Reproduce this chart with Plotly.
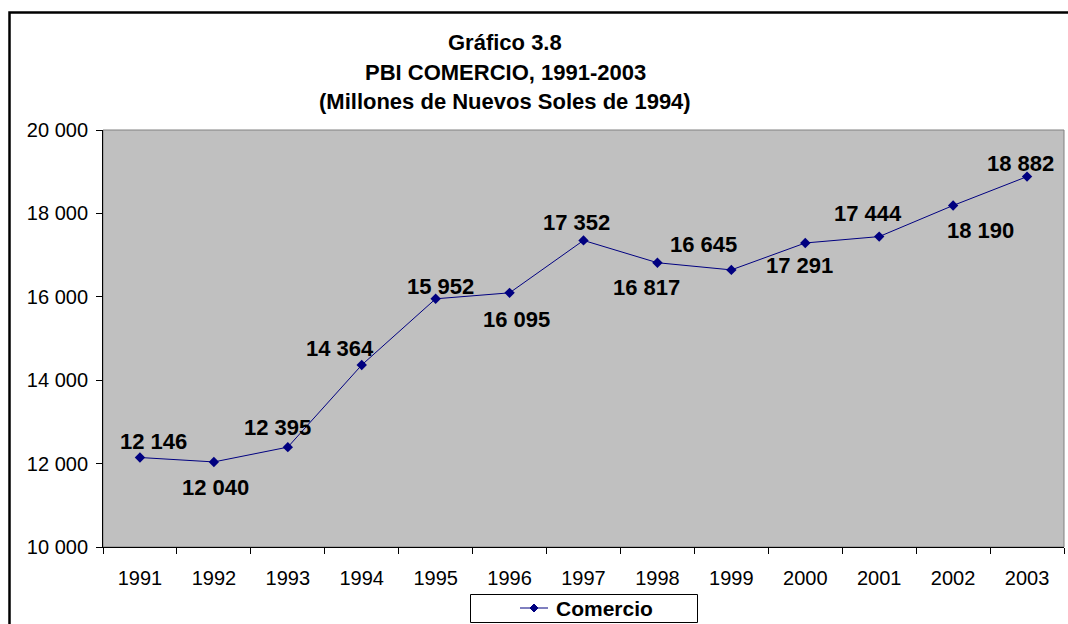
import plotly.graph_objects as go

years = ["1991", "1992", "1993", "1994", "1995", "1996", "1997",
         "1998", "1999", "2000", "2001", "2002", "2003"]
comercio = [12146, 12040, 12395, 14364, 15952, 16095, 17352,
            16817, 16645, 17291, 17444, 18190, 18882]
labels = ["12 146", "12 040", "12 395", "14 364", "15 952", "16 095", "17 352",
          "16 817", "16 645", "17 291", "17 444", "18 190", "18 882"]
y_ticks = [10000, 12000, 14000, 16000, 18000, 20000]
y_tick_text = ["10 000", "12 000", "14 000", "16 000", "18 000", "20 000"]
series_name = "Comercio"

# label offsets in pixels (x, y) relative to each point
label_dx = [14, 2, -10, -22, 5, 7, -7, -11, -28, -6, -11, 27, -7]
label_dy = [16, -26, 20, 17, 12, -27, 18, -25, 25, -23, 23, -25, 13]

FONT = "Arial, Liberation Sans, sans-serif"
NAVY = "#000080"

# pixel -> paper helpers (plot area: x 103..1064, y 130..547)
def px(x):
    return (x - 103) / 961

def py(y):
    return (547 - y) / 417

fig = go.Figure()
fig.add_trace(go.Scatter(
    x=years, y=comercio, mode="lines+markers", name=series_name,
    line=dict(color=NAVY, width=1),
    marker=dict(symbol="diamond", size=8, color=NAVY),
    showlegend=False,
))

for i, (v, t) in enumerate(zip(comercio, labels)):
    fig.add_annotation(x=i, y=v, text="<b>%s</b>" % t, showarrow=False,
                       xshift=label_dx[i], yshift=label_dy[i],
                       font=dict(family=FONT, size=22, color="black"))

titles = ["Gráfico 3.8", "PBI COMERCIO, 1991-2003", "(Millones de Nuevos Soles de 1994)"]
title_px_y = [43, 73, 102]
for t, ty in zip(titles, title_px_y):
    fig.add_annotation(xref="paper", yref="paper", x=px(505), y=py(ty),
                       text="<b>%s</b>" % t, showarrow=False, xanchor="center", yanchor="middle",
                       font=dict(family=FONT, size=22, color="black"))

# outer chart border
fig.add_shape(type="rect", xref="paper", yref="paper",
              x0=px(9.5), x1=px(1090), y0=py(660), y1=py(12.5),
              line=dict(color="black", width=2.5), layer="below")
# plot area border
fig.add_shape(type="rect", xref="paper", yref="paper", x0=0, x1=1, y0=0, y1=1,
              line=dict(color="#808080", width=1), layer="below")

# legend box (drawn)
fig.add_shape(type="rect", xref="paper", yref="paper",
              x0=px(470.5), x1=px(697.5), y0=py(622.5), y1=py(594.5),
              line=dict(color="black", width=1), fillcolor="white")
fig.add_shape(type="line", xref="paper", yref="paper",
              x0=px(520), x1=px(548), y0=py(608), y1=py(608),
              line=dict(color=NAVY, width=1))
fig.add_shape(type="path", xref="paper", yref="paper",
              path="M %f,%f L %f,%f L %f,%f L %f,%f Z" % (
                  px(534), py(604), px(538), py(608), px(534), py(612), px(530), py(608)),
              line=dict(color=NAVY, width=1), fillcolor=NAVY)
fig.add_annotation(xref="paper", yref="paper", x=px(554), y=py(608),
                   text="<b>%s</b>" % series_name, showarrow=False,
                   xanchor="left", yanchor="middle",
                   font=dict(family=FONT, size=21, color="black"))

fig.update_layout(
    width=1068, height=624,
    margin=dict(l=103, r=4, t=130, b=77, autoexpand=False),
    paper_bgcolor="white", plot_bgcolor="#C0C0C0",
    font=dict(family=FONT, size=20, color="black"),
    showlegend=False,
)
fig.update_xaxes(type="category", range=[-0.5, 12.5], showgrid=False, showline=True,
                 linecolor="black", linewidth=1,
                 ticks="outside", tickson="boundaries", ticklen=6, tickcolor="black",
                 tickfont=dict(size=20), tickangle=0, ticklabelstandoff=13,
                 zeroline=False, automargin=False)
fig.update_yaxes(range=[10000, 20000], tickvals=y_ticks, ticktext=y_tick_text,
                 showgrid=False, showline=True, linecolor="black", linewidth=1,
                 ticks="outside", ticklen=6, tickcolor="black", tickfont=dict(size=20),
                 ticklabelstandoff=4, zeroline=False, automargin=False)

fig.write_html("out.html", config={"displayModeBar": False},
               post_script="document.body.style.margin='0';document.body.style.overflow='hidden';")
